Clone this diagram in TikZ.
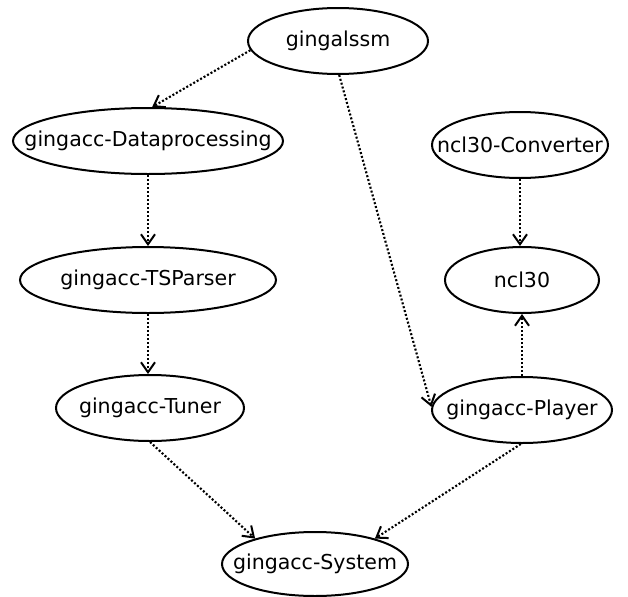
\documentclass[tikz,border=0pt]{standalone}
\usepackage{fontspec}
\setmainfont{DejaVu Sans}
\usetikzlibrary{shapes.geometric, arrows.meta, positioning, calc}
\newcommand{\pkgname}[1]{\makebox[0pt]{#1}}

\begin{document}
\begin{tikzpicture}[x=0.75pt, y=-0.75pt,
    pkg/.style={draw, ellipse, line width=1.5pt, inner sep=0pt,
                minimum height=49.5pt, font=\fontsize{15.4}{18}\selectfont},
    dep/.style={line width=1.6pt, dash pattern=on 1.5pt off 1.5pt,
                -{Straight Barb[length=7.5pt, width=10.5pt, line width=1.5pt]}}]
            \useasboundingbox (0,0) rectangle (628,596);
            % packages
            \node[pkg, minimum width=135pt] (lssm) at (338, 41) {\pkgname{gingalssm}};
            \node[pkg, minimum width=202.5pt] (dataproc) at (148, 141) {\pkgname{gingacc-Dataprocessing}};
            \node[pkg, minimum width=132pt] (converter) at (520, 145) {\pkgname{ncl30-Converter}};
            \node[pkg, minimum width=192pt] (tsparser) at (148, 280) {\pkgname{gingacc-TSParser}};
            \node[pkg, minimum width=115.5pt] (ncl) at (522, 280) {\pkgname{ncl30}};
            \node[pkg, minimum width=141pt] (tuner) at (150, 408) {\pkgname{gingacc-Tuner}};
            \node[pkg, minimum width=135pt] (player) at (522, 410) {\pkgname{gingacc-Player}};
            \node[pkg, minimum width=139.5pt, minimum height=48pt] (system) at (315, 564) {\pkgname{gingacc-System}};
            % dependencies
            \draw[dep] (lssm.186) -- (dataproc.83);
            \draw[dep] (lssm.-88) -- (player.178);
            \draw[dep] (dataproc.south) -- (tsparser.north);
            \draw[dep] (tsparser.south) -- (tsparser.south |- tuner.north);
            \draw[dep] (converter.south) -- (converter.south |- ncl.north);
            \draw[dep] (player.north) -- (ncl.south);
            \draw[dep] (tuner.south) -- (system.157);
            \draw[dep] (player.-92) -- (system.23);
        \end{tikzpicture}
\end{document}
